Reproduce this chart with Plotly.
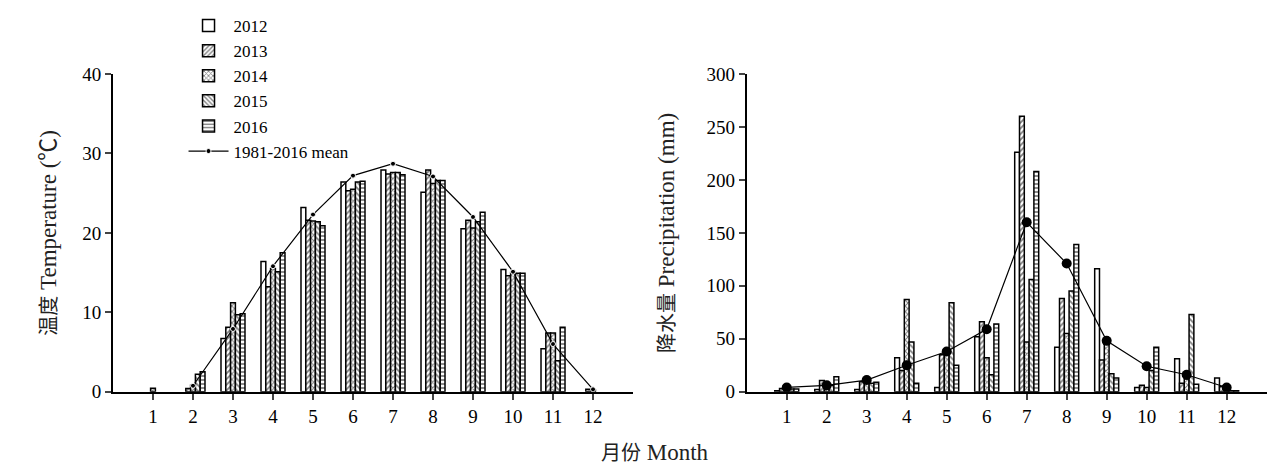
import plotly.graph_objects as go

months = list(range(1, 13))
years = ["2012", "2013", "2014", "2015", "2016"]

# monthly mean temperature (deg C)
temp_2012 = [None, None, 6.7, 16.4, 23.2, 26.4, 27.9, 25.1, 20.5, 15.4, 5.4, None]
temp_2013 = [None, 0.4, 8.1, 13.2, 21.6, 25.3, 27.4, 27.9, 21.6, 14.6, 7.4, 0.3]
temp_2014 = [0.45, 0.8, 11.2, 15.5, 21.5, 25.5, 27.6, 26.2, 20.6, 15.0, 7.4, 0.2]
temp_2015 = [None, 2.2, 9.7, 15.1, 21.4, 26.4, 27.6, 26.6, 21.4, 14.9, 3.9, None]
temp_2016 = [None, 2.5, 9.8, 17.5, 20.9, 26.5, 27.3, 26.6, 22.6, 14.9, 8.1, None]
temp_mean = [None, 0.75, 7.9, 15.8, 22.3, 27.2, 28.7, 27.1, 22.0, 15.1, 6.0, 0.3]

# monthly precipitation (mm)
prec_2012 = [1, 2, 2, 32, 4, 52, 226, 42, 116, 4, 31, 13]
prec_2013 = [3, 10.5, 9.5, 20, 35, 66, 260, 88, 30, 6, 8, 5]
prec_2014 = [4, 8, 8, 87, 37, 32, 47, 55, 46, 4, 12, 3]
prec_2015 = [2.5, 6, 8, 47, 84, 16, 106, 95, 17, 20, 73, 1]
prec_2016 = [2.5, 14, 9, 8, 25, 64, 208, 139, 13, 42, 7, 1]
prec_mean = [4, 6, 11, 25, 38, 59, 160, 121, 48, 24, 16, 4]

temps = [temp_2012, temp_2013, temp_2014, temp_2015, temp_2016]
precs = [prec_2012, prec_2013, prec_2014, prec_2015, prec_2016]
patterns = ["", "/", "x", "\\", "-"]

FONT = "Liberation Serif, Noto Sans CJK SC"
CJK = "<span style='font-size:20px'>{}</span>"

fig = go.Figure()

for year, t, p, shape in zip(years, temps, precs, patterns):
    pat = dict(shape=shape, fgcolor="black", bgcolor="white", size=4, solidity=0.45)
    fig.add_trace(go.Bar(
        x=months, y=t, name=year, legendgroup=year,
        marker=dict(color="white", line=dict(color="black", width=1.5), pattern=pat),
        xaxis="x", yaxis="y",
    ))
    fig.add_trace(go.Bar(
        x=months, y=p, name=year, legendgroup=year, showlegend=False,
        marker=dict(color="white", line=dict(color="black", width=1.5), pattern=pat),
        xaxis="x2", yaxis="y2",
    ))

fig.add_trace(go.Scatter(
    x=months, y=temp_mean, name="1981-2016 mean", legendgroup="mean",
    mode="lines+markers", line=dict(color="black", width=1.2),
    marker=dict(color="black", size=5, line=dict(color="white", width=1)),
    xaxis="x", yaxis="y",
))
fig.add_trace(go.Scatter(
    x=months, y=prec_mean, name="1981-2016 mean", legendgroup="mean", showlegend=False,
    mode="lines+markers", line=dict(color="black", width=1.2),
    marker=dict(color="black", size=10),
    xaxis="x2", yaxis="y2",
))

xax = dict(range=[0, 13], tickvals=months, ticks="outside", ticklen=6, tickwidth=1.5,
           showline=True, linecolor="black", linewidth=2, showgrid=False, zeroline=False,
           tickfont=dict(size=19, family=FONT, color="black"))
yax = dict(ticks="outside", ticklen=6, tickwidth=1.5, showline=True, linecolor="black",
           linewidth=2, showgrid=False, zeroline=False,
           tickfont=dict(size=19, family=FONT, color="black"))

fig.update_layout(
    width=1285, height=472,
    margin=dict(l=0, r=0, t=12, b=12),
    paper_bgcolor="white", plot_bgcolor="white",
    barmode="group", bargap=0.4, bargroupgap=0,
    font=dict(family=FONT, color="black", size=19),
    xaxis=dict(xax, domain=[0.0817, 0.4864], anchor="y"),
    xaxis2=dict(xax, domain=[0.5749, 0.9795], anchor="y2"),
    yaxis=dict(yax, range=[0, 40], dtick=10, domain=[0.1703, 0.8795], anchor="x",
               title=dict(text=CJK.format("温度") + " Temperature (℃)", standoff=19,
                          font=dict(size=23, family=FONT, color="#222"))),
    yaxis2=dict(yax, range=[0, 300], dtick=50, domain=[0.1703, 0.8795], anchor="x2",
                title=dict(text=CJK.format("降水量") + " Precipitation (mm)", standoff=25,
                           font=dict(size=23, family=FONT, color="#222"))),
    legend=dict(x=0.1366, y=1.0268, xanchor="left", yanchor="top",
                bgcolor="rgba(0,0,0,0)",
                font=dict(size=17, family=FONT, color="black"), tracegroupgap=0,
                itemwidth=40),
    showlegend=True,
    annotations=[dict(text=CJK.format("月份") + " Month", x=0.5035, y=0.0357,
                      xref="paper", yref="paper", xanchor="center", yanchor="middle",
                      showarrow=False, font=dict(size=23, family=FONT, color="#222"))],
)

fig.write_html("out.html")
